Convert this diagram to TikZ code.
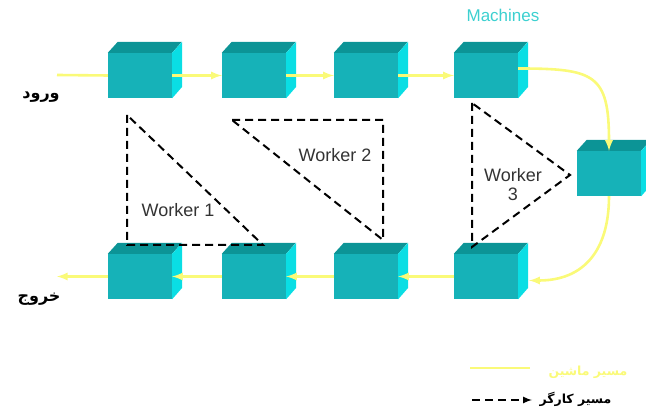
\documentclass[tikz,border=0pt]{standalone}
\usepackage{fontspec}
\setmainfont{Liberation Sans}
\newfontfamily\arabicfont[Script=Arabic]{DejaVu Sans}
\TeXXeTstate=1
\usetikzlibrary{arrows}
\definecolor{machfront}{RGB}{22,178,184}
\definecolor{machtop}{RGB}{12,148,150}
\definecolor{machside}{RGB}{10,222,228}
\definecolor{pathyellow}{RGB}{250,250,120}
\definecolor{machtext}{RGB}{60,208,208}
\tikzset{
 mach/.style={fill=machfront, minimum width=64pt, minimum height=45pt, inner sep=0pt},
 machpath/.style={draw=pathyellow, line width=2.6pt},
 workpath/.style={draw=black, line width=2pt, dash pattern=on 8pt off 5pt},
 wlabel/.style={font=\fontsize{18}{19}\selectfont, text=black!80, align=center},
 alabel/.style={font=\arabicfont\bfseries\fontsize{16}{17}\selectfont},
 legendlabel/.style={font=\arabicfont\bfseries\fontsize{12.5}{13}\selectfont, anchor=west}
}
% one machine = front face node + top and side faces
\newcommand{\machine}[3]{%
\node[mach] (#1) at (#2,#3) {};
\fill[machtop] (#1.north west) -- ++(10,11) -- ++(64,0) -- (#1.north east) -- cycle;
\fill[machside] (#1.north east) -- ++(10,11) -- ++(0,-45) -- (#1.south east) -- cycle;
}

\begin{document}
\begin{tikzpicture}[x=1pt, y=1pt]
\useasboundingbox (0,0) rectangle (646,414);
\foreach \n/\x in {1/140,2/254,3/366,4/486} % edit here for the machines
{\machine{m\n}{\x}{338.5}
 \machine{b\n}{\x}{137.5}}
\machine{r}{609}{240.5}
\node[text=machtext, font=\fontsize{17}{18}\selectfont] (mlabel) at (503,399) {Machines};
\node[alabel] (inlabel) at (41,317) {\beginR ورود\endR};
\node[alabel] (outlabel) at (39,115) {\beginR خروج\endR};
% material path
\coordinate (in) at (57,339);
\coordinate (out) at (57,137.5);
\draw[machpath] (in) -- (m1.west);
\foreach \a/\b in {m1/m2,m2/m3,m3/m4}
\draw[machpath, -latex] (\a.east) -- (\b.west);
\foreach \a/\b in {b4/b3,b3/b2,b2/b1}
\draw[machpath, -latex] (\a.west) -- (\b.east);
\draw[machpath, -latex] (b1.west) -- (out);
\draw[machpath, -latex] ([yshift=7pt]m4.east) to[out=0, in=90, looseness=1.6] (r.north);
\draw[machpath, -latex] (r.south) to[out=-90, in=0, looseness=1.2] ([xshift=11pt,yshift=-4pt]b4.east);
% worker paths
\coordinate (w1a) at (127,299);
\coordinate (w1b) at (127,169);
\coordinate (w1c) at (263,169);
\coordinate (w2a) at (232,294);
\coordinate (w2b) at (383,294);
\coordinate (w2c) at (383,174);
\coordinate (w3a) at (472,311);
\coordinate (w3b) at (472,167);
\coordinate (w3c) at (570,239);
\draw[workpath] (w1a) -- (w1b) -- (w1c) -- cycle;
\draw[workpath] (w2a) -- (w2b) -- (w2c) -- cycle;
\draw[workpath] (w3a) -- (w3b) -- (w3c) -- cycle;
\node[wlabel] (w1) at (178,204) {Worker 1};
\node[wlabel] (w2) at (335,259) {Worker 2};
\node[wlabel] (w3) at (513,229) {Worker\\3};
% legend
\coordinate (l1a) at (470,46);
\coordinate (l1b) at (530,46);
\coordinate (l2a) at (472,14);
\coordinate (l2b) at (532,14);
\draw[machpath] (l1a) -- (l1b);
\draw[workpath, -latex] (l2a) -- (l2b);
\node[legendlabel, text=pathyellow] (lg1) at (545,42) {\beginR مسیر ماشین\endR};
\node[legendlabel] (lg2) at (536,15) {\beginR مسیر کارگر\endR};
\end{tikzpicture}
\end{document}
